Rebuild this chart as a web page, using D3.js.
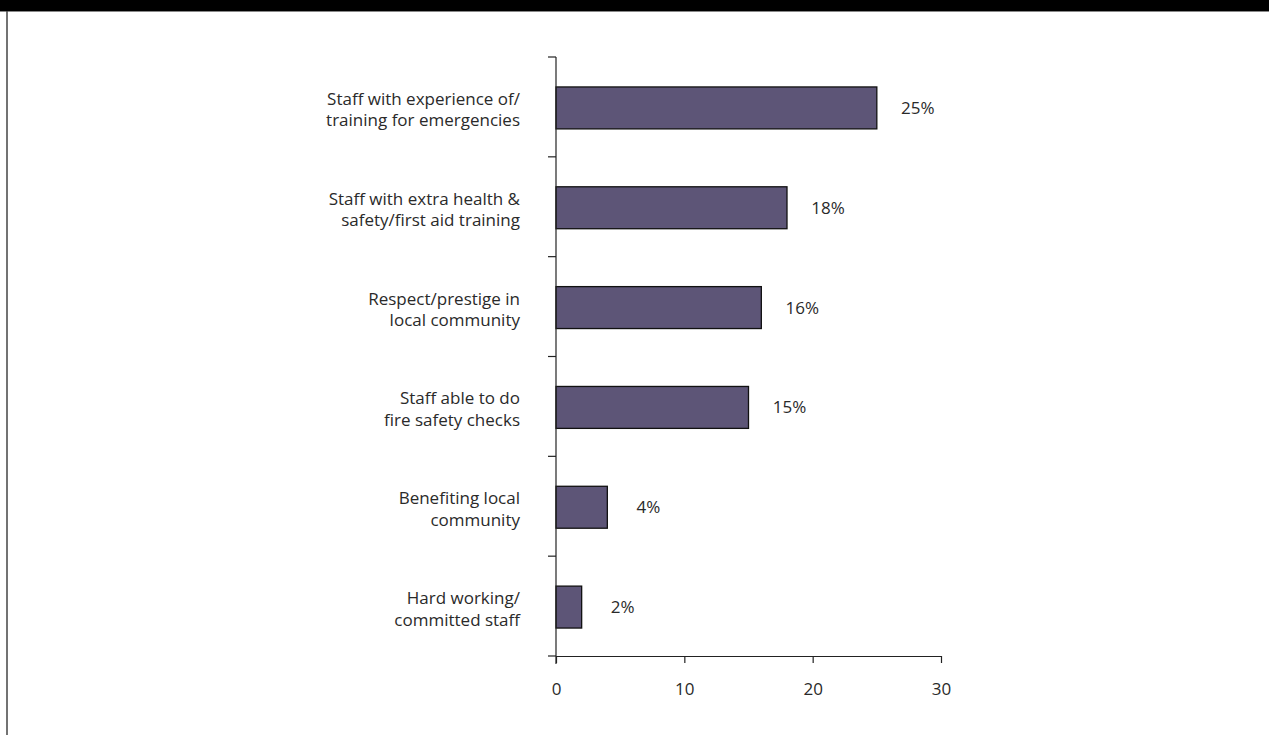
<!DOCTYPE html>
<html><head><meta charset="utf-8">
<script src="https://cdn.jsdelivr.net/npm/d3@7"></script>
<style>body{margin:0;background:#fff}svg{display:block}text{font-family:"Open Sans",sans-serif;fill:#2a2a2a}</style>
</head><body><svg id="c" width="1269" height="735"></svg>
<script>
const categories = [
  ["Staff with experience of/", "training for emergencies"],
  ["Staff with extra health &", "safety/first aid training"],
  ["Respect/prestige in", "local community"],
  ["Staff able to do", "fire safety checks"],
  ["Benefiting local", "community"],
  ["Hard working/", "committed staff"]
];
const values = [25, 18, 16, 15, 4, 2];
const valueLabels = ["25%", "18%", "16%", "15%", "4%", "2%"];
const xTicks = [0, 10, 20, 30];

const svg = d3.select("#c");
svg.append("rect").attr("x",0).attr("y",0).attr("width",1269).attr("height",11).attr("fill","#000");
svg.append("line").attr("x1",0).attr("x2",1269).attr("y1",11.5).attr("y2",11.5).attr("stroke","#888").attr("stroke-width",1);
svg.append("line").attr("x1",7).attr("x2",7).attr("y1",11).attr("y2",735).attr("stroke","#444").attr("stroke-width",1.5);

const x = d3.scaleLinear().domain([0,30]).range([556,941]);
const y = d3.scaleBand().domain(d3.range(categories.length)).range([57,656]).paddingInner(0.58).paddingOuter(0.29);
const yb = d3.scaleLinear().domain([0,categories.length]).range([57,656]);
const fs = 17;

svg.selectAll("rect.bar").data(values).join("rect").attr("class","bar")
  .attr("x",x(0)).attr("y",(d,i)=>y(i)+1).attr("width",d=>x(d)-x(0)).attr("height",y.bandwidth())
  .attr("fill","#5d5577").attr("stroke","#111").attr("stroke-width",1.3);

const g = svg.append("g").attr("stroke","#222").attr("stroke-width",1.2);
g.append("line").attr("x1",556).attr("x2",556).attr("y1",yb(0)).attr("y2",664);
d3.range(categories.length+1).forEach(i=>{
  g.append("line").attr("x1",548).attr("x2",556).attr("y1",yb(i)).attr("y2",yb(i));
});
const xa = svg.append("g").attr("transform","translate(0,656)")
  .call(d3.axisBottom(x).tickValues(xTicks).tickSize(7).tickPadding(20).tickSizeOuter(0));
xa.select(".domain").attr("stroke","#222").attr("stroke-width",1.2);
xa.selectAll(".tick line").attr("stroke","#222").attr("stroke-width",1.2);
xa.selectAll(".tick text").attr("font-size",fs).attr("font-family","Open Sans, sans-serif").attr("fill","#2a2a2a");

categories.forEach((lines,i)=>{
  const cy = y(i)+1+y.bandwidth()/2;
  const t = svg.append("text").attr("text-anchor","end").attr("font-size",fs);
  lines.forEach((l,j)=>{
    t.append("tspan").attr("x",520).attr("y",cy-3+j*21.5).text(l);
  });
});
svg.selectAll("text.val").data(values).join("text").attr("class","val")
  .attr("text-anchor","middle")
  .attr("x",d=>x(d)+41).attr("y",(d,i)=>y(i)+1+y.bandwidth()/2+6).attr("font-size",fs).text((d,i)=>valueLabels[i]);
</script></body></html>
